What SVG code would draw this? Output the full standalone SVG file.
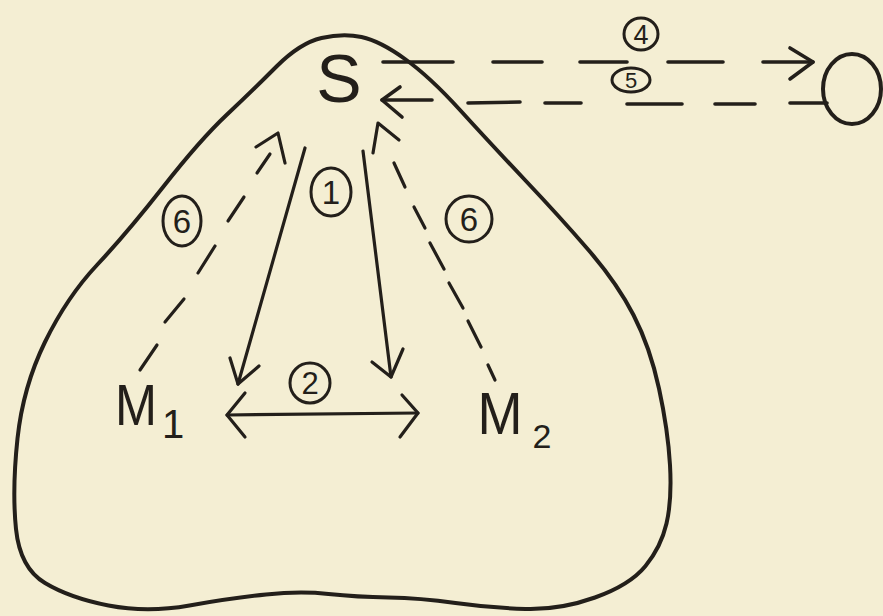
<svg xmlns="http://www.w3.org/2000/svg" width="883" height="616" viewBox="0 0 883 616">
<style>
.ink{stroke:#231f1a;fill:none;stroke-linecap:round;stroke-linejoin:round}
.outline{stroke-width:4}
.con{stroke-width:3.2}
.dash{stroke-width:3.6}
.lbl{fill:#231f1a;font-family:"Liberation Sans",Arial,sans-serif;text-anchor:middle}
.num{fill:#231f1a;font-family:"Liberation Sans",Arial,sans-serif;text-anchor:middle}
.ring{stroke:#231f1a;fill:none;stroke-width:3}
</style>
<rect width="883" height="616" fill="#f4eed3"/>

<g id="region">
<path class="ink outline" d="M321.5,38 Q343,33 361.5,37 Q380,41 405,59 Q430,77 460,110 Q490,143 525,180 Q560,217 588.5,250 Q617,283 633.5,315 Q650,347 659,388.5 Q668,430 670,465 Q672,500 666.5,523.5 Q661,547 645.5,566 Q630,585 595,597.5 Q560,610 525.5,609 Q491,608 455.5,603 Q420,598 388.5,597.5 Q357,597 328.5,594 Q300,591 266,594.5 Q232,598 189.5,605.5 Q147,613 108.5,605.5 Q70,598 45,583 Q20,568 16,529 Q12,490 17.5,438.5 Q23,387 45,342 Q67,297 97,265 Q127,233 163.5,186.5 Q200,140 226.5,115 Q253,90 276.5,66.5 Q300,43 321.5,38 Z"/>
</g>

<g id="node-S">
<text class="lbl" x="339" y="102" font-size="68">S</text>
</g>
<g id="node-M1">
<text class="lbl" x="136" y="425" font-size="58" textLength="42" lengthAdjust="spacingAndGlyphs">M</text>
<text class="lbl" x="173" y="438" font-size="40">1</text>
</g>
<g id="node-M2">
<text class="lbl" x="500" y="434" font-size="60" textLength="45" lengthAdjust="spacingAndGlyphs">M</text>
<text class="lbl" x="542" y="448" font-size="34">2</text>
</g>
<g id="node-O">
<ellipse class="ink outline" cx="852" cy="89" rx="29" ry="35"/>
</g>

<g id="connectors">
<g class="ink con">
<line x1="305" y1="148" x2="238" y2="384"/>
<polyline points="230,358 238,384 259,366"/>
<line x1="363" y1="151" x2="391" y2="377"/>
<polyline points="372,362 391,377 403,349"/>
</g>
<g class="ink con">
<line x1="227" y1="415" x2="418" y2="413"/>
<polyline points="245,393 227,415 245,437"/>
<polyline points="402,395 418,413 400,437"/>
</g>
<g class="ink con">
<line x1="140" y1="370" x2="157" y2="345"/>
<line x1="165" y1="322" x2="184" y2="299"/>
<line x1="198" y1="273" x2="215" y2="246"/>
<line x1="228" y1="221" x2="244" y2="197"/>
<line x1="257" y1="173" x2="270" y2="154"/>
<polyline points="256,147 278,133 285,163"/>
</g>
<g class="ink con">
<polyline points="373,153 378,123 399,140"/>
<line x1="394" y1="163" x2="405" y2="187"/>
<line x1="414" y1="207" x2="425" y2="228"/>
<line x1="430" y1="243" x2="444" y2="269"/>
<line x1="449" y1="283" x2="463" y2="308"/>
<line x1="468" y1="321" x2="481" y2="347"/>
<line x1="488" y1="365" x2="495" y2="380"/>
</g>
<g class="ink dash">
<line x1="383" y1="62" x2="453" y2="62"/>
<line x1="493" y1="62" x2="542" y2="62"/>
<line x1="580" y1="62" x2="627" y2="62"/>
<line x1="668" y1="62" x2="723" y2="62"/>
<line x1="763" y1="62" x2="813" y2="62"/>
<polyline points="790,48 813,62 790,79"/>
</g>
<g class="ink dash">
<polyline points="400,87 382,100 402,117"/>
<line x1="382" y1="100" x2="432" y2="100"/>
<line x1="468" y1="103" x2="520" y2="102"/>
<line x1="545" y1="103" x2="581" y2="103"/>
<line x1="627" y1="104" x2="682" y2="104"/>
<line x1="715" y1="104" x2="755" y2="104"/>
<line x1="790" y1="103" x2="827" y2="103"/>
</g>
</g>

<g id="labels">
<g id="lbl-1"><ellipse class="ring" cx="331" cy="192" rx="20" ry="24"/><text class="num" x="331" y="204" font-size="33">1</text></g>
<g id="lbl-2"><ellipse class="ring" cx="310" cy="383" rx="20" ry="20"/><text class="num" x="310" y="394" font-size="31">2</text></g>
<g id="lbl-4"><ellipse class="ring" cx="641" cy="34" rx="17" ry="16"/><text class="num" x="641" y="44" font-size="27">4</text></g>
<g id="lbl-5"><ellipse class="ring" cx="631" cy="80" rx="19" ry="12"/><text class="num" x="631" y="88" font-size="22">5</text></g>
<g id="lbl-6a"><ellipse class="ring" cx="182" cy="221" rx="19" ry="25"/><text class="num" x="182" y="233" font-size="33">6</text></g>
<g id="lbl-6b"><ellipse class="ring" cx="469" cy="219" rx="23" ry="23"/><text class="num" x="469" y="231" font-size="33">6</text></g>
</g>
</svg>
